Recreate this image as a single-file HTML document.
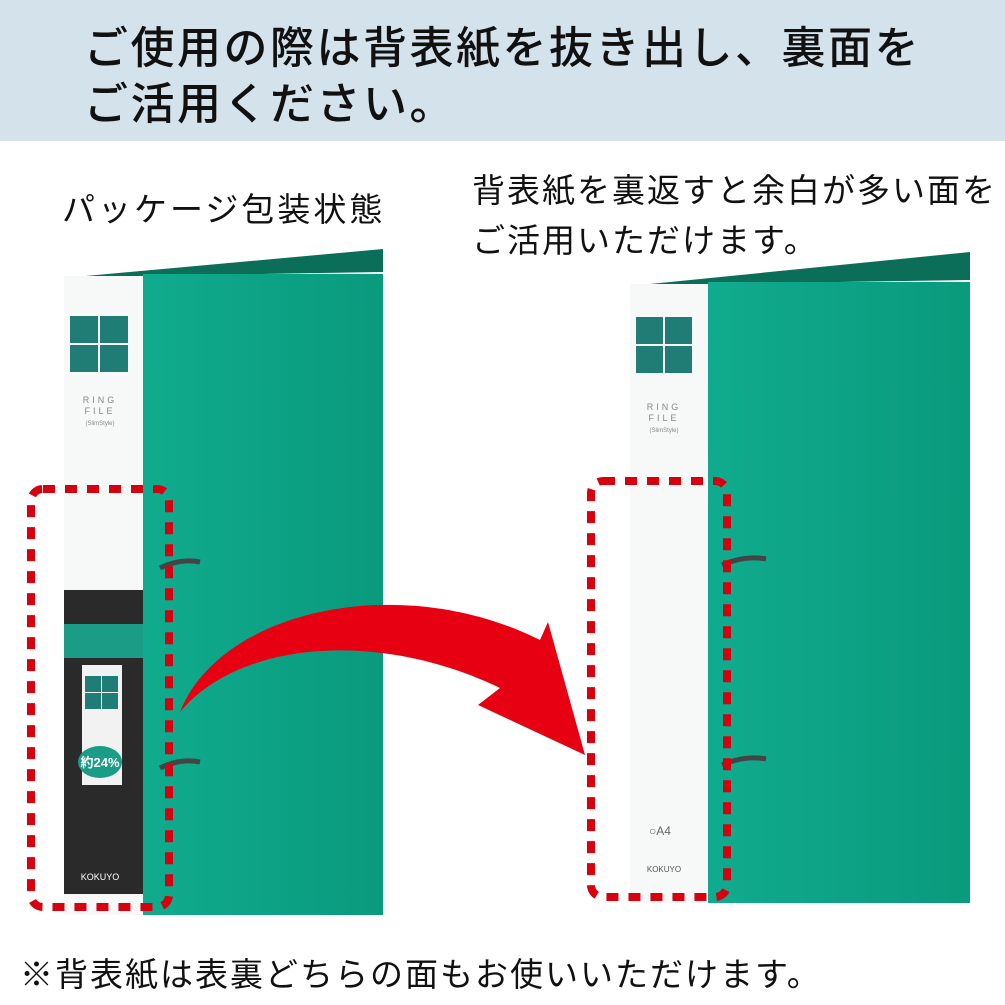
<!DOCTYPE html>
<html><head><meta charset="utf-8"><style>
body{margin:0;width:1005px;height:1005px;background:#fff;position:relative;overflow:hidden;font-family:"Liberation Sans","Noto Sans CJK JP",sans-serif;}
.hdr{position:absolute;left:0;top:0;width:1005px;height:141px;background:#d3e2eb;}
.hdr div{position:absolute;left:84px;font-size:44px;font-weight:500;color:#111;letter-spacing:2.5px;}
.t{position:absolute;font-size:33px;color:#111;letter-spacing:2px;}
</style></head><body>
<div class="hdr"><div style="top:12px">ご使用の際は背表紙を抜き出し、裏面を</div><div style="top:68px">ご活用ください。</div></div>
<div class="t" style="left:62px;top:183px;letter-spacing:3px">パッケージ包装状態</div>
<div class="t" style="left:472px;top:164px">背表紙を裏返すと余白が多い面を</div>
<div class="t" style="left:472px;top:214px">ご活用いただけます。</div>
<div class="t" style="left:20px;top:948px">※背表紙は表裏どちらの面もお使いいただけます。</div>
<svg width="1005" height="1005" style="position:absolute;left:0;top:0">
<defs><linearGradient id="g" x1="0" x2="1"><stop offset="0" stop-color="#10ab8e"/><stop offset="1" stop-color="#0a9a7c"/></linearGradient></defs>
<polygon points="64,278 383,249 383,272 143,276 64,280" fill="#0b6e58"/>
<rect x="143" y="274" width="240" height="641" fill="url(#g)"/>
<rect x="64" y="276" width="79" height="639" fill="#f7f8f8"/>
<rect x="70" y="316" width="28" height="27" fill="#1f7d76"/><rect x="100" y="316" width="28" height="27" fill="#1f7d76"/>
<rect x="70" y="345" width="28" height="27" fill="#1f7d76"/><rect x="100" y="345" width="28" height="27" fill="#1f7d76"/>
<text x="100" y="403" font-size="9" text-anchor="middle" fill="#888" letter-spacing="3">RING</text>
<text x="100" y="414" font-size="9" text-anchor="middle" fill="#888" letter-spacing="3">FILE</text>
<text x="100" y="425" font-size="6" text-anchor="middle" fill="#888">(SlimStyle)</text>
<rect x="64" y="590" width="79" height="304" fill="#2a2a2a"/>
<rect x="64" y="624" width="79" height="34" fill="#1a9c86"/>
<rect x="82" y="665" width="40" height="120" fill="#f2f2f2"/>
<rect x="85" y="676" width="16" height="16" fill="#1f7d76"/><rect x="102" y="676" width="16" height="16" fill="#1f7d76"/>
<rect x="85" y="693" width="16" height="16" fill="#1f7d76"/><rect x="102" y="693" width="16" height="16" fill="#1f7d76"/>
<ellipse cx="100" cy="762" rx="22" ry="16" fill="#1a9c86"/>
<text x="100" y="767" font-size="13" font-weight="bold" text-anchor="middle" fill="#fff">約24%</text>
<text x="100" y="880" font-size="9" text-anchor="middle" fill="#fff">KOKUYO</text>
<path d="M160,568 q20,-10 40,-6" stroke="#444" stroke-width="5" fill="none"/><path d="M160,768 q20,-10 40,-6" stroke="#444" stroke-width="5" fill="none"/>
<polygon points="630,286 970,252 970,280 708,284 630,288" fill="#0b6e58"/>
<rect x="708" y="282" width="262" height="621" fill="url(#g)"/>
<rect x="630" y="284" width="78" height="619" fill="#f7f8f8"/>
<rect x="636" y="317" width="27" height="27" fill="#1f7d76"/><rect x="665" y="317" width="27" height="27" fill="#1f7d76"/>
<rect x="636" y="346" width="27" height="27" fill="#1f7d76"/><rect x="665" y="346" width="27" height="27" fill="#1f7d76"/>
<text x="664" y="410" font-size="9" text-anchor="middle" fill="#888" letter-spacing="3">RING</text>
<text x="664" y="421" font-size="9" text-anchor="middle" fill="#888" letter-spacing="3">FILE</text>
<text x="664" y="432" font-size="6" text-anchor="middle" fill="#888">(SlimStyle)</text>
<text x="660" y="835" font-size="12" text-anchor="middle" fill="#666">○A4</text>
<text x="664" y="872" font-size="8" text-anchor="middle" fill="#555">KOKUYO</text>
<path d="M722,565 q22,-10 44,-6" stroke="#444" stroke-width="5" fill="none"/><path d="M722,765 q22,-10 44,-6" stroke="#444" stroke-width="5" fill="none"/>
<path d="M180,712 C220,610 400,570 540,640 L548,622 L585,755 L478,705 L500,688 C380,630 240,640 180,712 Z" fill="#e60012"/>
<rect x="31" y="489" width="138" height="418" rx="12" fill="none" stroke="#d7000f" stroke-width="8" stroke-dasharray="12,10"/>
<rect x="591" y="481" width="136" height="416" rx="12" fill="none" stroke="#d7000f" stroke-width="8" stroke-dasharray="12,10"/>
</svg>
</body></html>
